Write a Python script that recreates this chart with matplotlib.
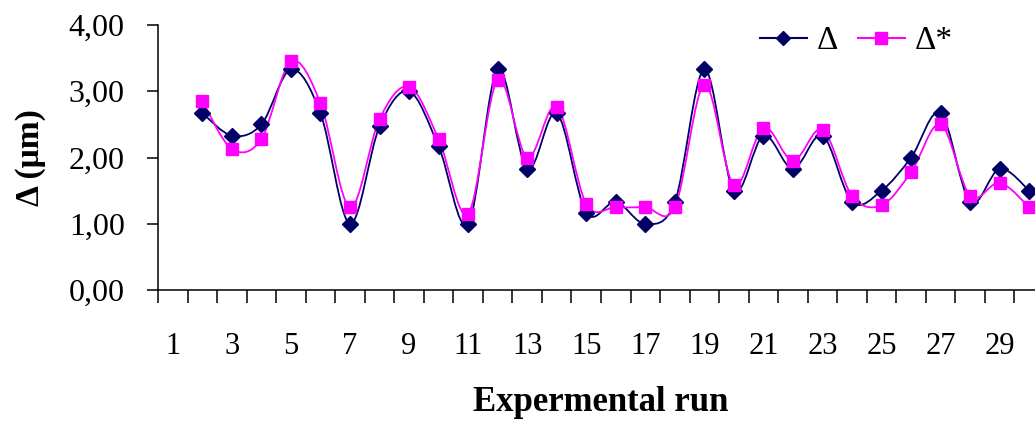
import numpy as np
import matplotlib.pyplot as plt
from matplotlib.path import Path
from matplotlib.patches import PathPatch
from matplotlib.lines import Line2D
from matplotlib.ticker import FuncFormatter

plt.rcParams['font.family'] = ['Liberation Serif', 'DejaVu Serif']

runs = list(range(2, 31))
delta = [2.67, 2.33, 2.50, 3.33, 2.67, 1.00, 2.47, 3.00, 2.17, 1.00,
         3.33, 1.83, 2.67, 1.17, 1.33, 1.00, 1.33, 3.33, 1.50, 2.33,
         1.83, 2.33, 1.33, 1.50, 2.00, 2.67, 1.33, 1.83, 1.50]
delta_star = [2.85, 2.13, 2.28, 3.45, 2.82, 1.25, 2.58, 3.07, 2.28, 1.15,
              3.17, 2.00, 2.77, 1.30, 1.25, 1.25, 1.25, 3.10, 1.58, 2.45,
              1.95, 2.42, 1.42, 1.28, 1.78, 2.50, 1.42, 1.62, 1.25]
tick_labels = [str(i) for i in range(1, 31, 2)]


def smooth_path(x, y):
    # cubic bezier through all points (catmull-rom style, like spreadsheet smoothing)
    p = np.column_stack([x, y]).astype(float)
    n = len(p)
    verts = [p[0]]
    codes = [Path.MOVETO]
    for i in range(n - 1):
        p0 = p[i - 1] if i > 0 else p[i]
        p3 = p[i + 2] if i + 2 < n else p[i + 1]
        c1 = p[i] + (p[i + 1] - p0) / 6
        c2 = p[i + 1] - (p3 - p[i]) / 6
        verts += [c1, c2, p[i + 1]]
        codes += [Path.CURVE4] * 3
    return Path(verts, codes)


fig = plt.figure(figsize=(10.35, 4.25), dpi=100)
ax = fig.add_axes([0.1527, 0.3176, 0.8560, 0.6235])

series = [(delta, '#000066', 'D', 8, 'Δ'), (delta_star, '#FF00FF', 's', 9, 'Δ*')]
handles = []
for vals, col, mk, ms, name in series:
    ax.add_patch(PathPatch(smooth_path(runs, vals), facecolor='none',
                           edgecolor=col, lw=1.3, zorder=2))
for vals, col, mk, ms, name in series:
    ax.plot(runs, vals, linestyle='none', marker=mk, ms=ms, color=col, zorder=3)
    handles.append(Line2D([], [], color=col, lw=1.5, marker=mk, ms=ms - 1, label=name))

ax.set_xlim(0.5, 30.5)
ax.set_ylim(0, 4)
ax.set_yticks([0, 1, 2, 3, 4])
ax.yaxis.set_major_formatter(FuncFormatter(lambda v, _: f'{v:.2f}'.replace('.', ',')))

ax.set_xticks(range(1, 31, 2))
ax.set_xticklabels(tick_labels)
ax.set_xticks(np.arange(0.5, 31, 1), minor=True)
ax.tick_params(axis='x', which='major', length=0, pad=30, labelsize=22)
ax.tick_params(axis='x', which='minor', length=9.5, width=1.1, direction='out')
ax.tick_params(axis='y', length=8, width=1.1, pad=16, labelsize=23)

for s in ['top', 'right']:
    ax.spines[s].set_visible(False)
for s in ['left', 'bottom']:
    ax.spines[s].set_linewidth(1.1)

ax.set_xlabel('Expermental run', fontsize=25, fontweight='bold', labelpad=18)
ax.set_ylabel('Δ (μm)', fontsize=24, fontweight='bold', labelpad=16)

fig.legend(handles=handles, loc='center left', bbox_to_anchor=(760 / 1035, 1 - 41 / 425),
           ncol=2, frameon=False, fontsize=24, handlelength=1.4, borderpad=0,
           borderaxespad=0, handletextpad=0.3, columnspacing=0.6)

fig.savefig('out.png', dpi=100)
